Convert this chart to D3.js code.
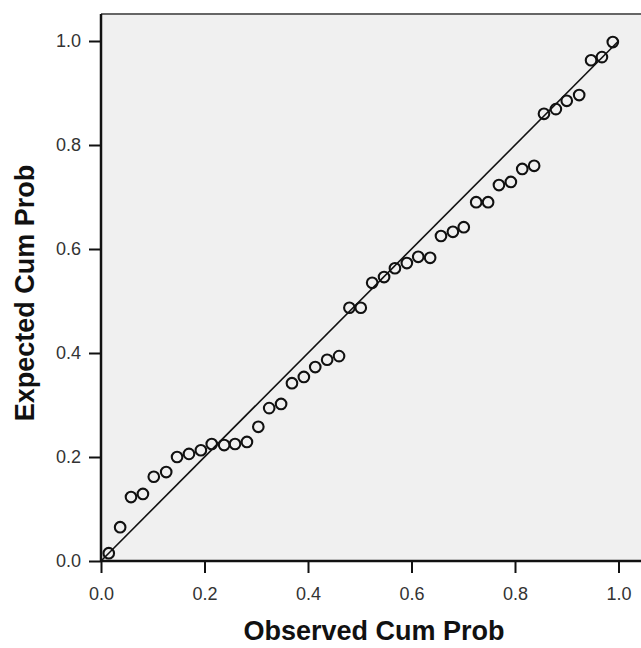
<!DOCTYPE html>
<html>
<head>
<meta charset="utf-8">
<script src="https://cdn.jsdelivr.net/npm/d3@7"></script>
<style>
  html, body { margin: 0; padding: 0; background: #fff; }
  .tick text { font-family: "Liberation Sans", Arial, sans-serif; font-size: 18px; fill: #333; }
  .axis-title { font-family: "Liberation Sans", Arial, sans-serif; font-size: 27px; font-weight: bold; fill: #111; }
</style>
</head>
<body>
<div id="chart"></div>
<script>
// observed vs expected cumulative probabilities
const observed = [
  0.015, 0.037, 0.058, 0.081, 0.102, 0.126, 0.147, 0.170, 0.193, 0.214,
  0.238, 0.259, 0.282, 0.304, 0.325, 0.348, 0.369, 0.392, 0.414, 0.437,
  0.460, 0.480, 0.502, 0.524, 0.547, 0.568, 0.591, 0.613, 0.636, 0.657,
  0.680, 0.701, 0.725, 0.748, 0.769, 0.792, 0.814, 0.837, 0.856, 0.879,
  0.900, 0.924, 0.947, 0.968, 0.989
]
const expected = [
  0.015, 0.065, 0.123, 0.129, 0.162, 0.171, 0.200, 0.206, 0.213, 0.225,
  0.223, 0.225, 0.229, 0.258, 0.294, 0.302, 0.342, 0.354, 0.373, 0.387,
  0.394, 0.487, 0.487, 0.535, 0.546, 0.563, 0.573, 0.585, 0.583, 0.625,
  0.633, 0.642, 0.690, 0.690, 0.723, 0.729, 0.754, 0.760, 0.860, 0.869,
  0.885, 0.896, 0.963, 0.969, 0.998
]
const tickValues = [0, 0.2, 0.4, 0.6, 0.8, 1.0]
const refLine = [[0, 0], [1, 1]]

const width = 641
const height = 648
const frame = { left: 101, top: 14, bottom: 561 }

const svg = d3.select('#chart').append('svg')
  .attr('width', width).attr('height', height)

const x = d3.scaleLinear().domain([0, 1]).range([frame.left, 618.5])
const y = d3.scaleLinear().domain([0, 1]).range([frame.bottom, 41])

// plot background + top border
svg.append('rect')
  .attr('x', frame.left).attr('y', frame.top)
  .attr('width', width - frame.left + 2).attr('height', frame.bottom - frame.top)
  .attr('fill', '#f0f0f0')
svg.append('line')
  .attr('x1', frame.left).attr('x2', width)
  .attr('y1', frame.top).attr('y2', frame.top)
  .attr('stroke', '#666').attr('stroke-width', 2)

const xAxisG = svg.append('g')
  .attr('transform', `translate(0,${frame.bottom})`)
  .call(d3.axisBottom(x).tickValues(tickValues).tickFormat(d3.format('.1f')).tickSize(12).tickPadding(14))
xAxisG.select('.domain').attr('d', `M${frame.left},0H${width}`)

const yAxisG = svg.append('g')
  .attr('transform', `translate(${frame.left},0)`)
  .call(d3.axisLeft(y).tickValues(tickValues).tickFormat(d3.format('.1f')).tickSize(12).tickPadding(8))
yAxisG.select('.domain').attr('d', `M0,${frame.top}V${frame.bottom}`)

svg.selectAll('.domain').attr('stroke', '#111').attr('stroke-width', 2.5)
svg.selectAll('.tick line').attr('stroke', '#111').attr('stroke-width', 2)

// reference diagonal
svg.append('path')
  .datum(refLine)
  .attr('d', d3.line().x((d) => x(d[0])).y((d) => y(d[1])))
  .attr('fill', 'none')
  .attr('stroke', '#111')
  .attr('stroke-width', 1.6)

const rows = observed.map((o, i) => ({ x: o, y: expected[i] }))

svg.append('g').selectAll('circle')
  .data(rows)
  .join('circle')
  .attr('cx', (d) => x(d.x))
  .attr('cy', (d) => y(d.y))
  .attr('r', 5.3)
  .attr('fill', 'none')
  .attr('stroke', '#111')
  .attr('stroke-width', 2.1)

svg.append('text')
  .attr('class', 'axis-title')
  .attr('text-anchor', 'middle')
  .attr('x', 374)
  .attr('y', 640)
  .text('Observed Cum Prob')

svg.append('text')
  .attr('class', 'axis-title')
  .attr('text-anchor', 'middle')
  .attr('transform', 'translate(34,293) rotate(-90)')
  .text('Expected Cum Prob')
</script>
</body>
</html>
